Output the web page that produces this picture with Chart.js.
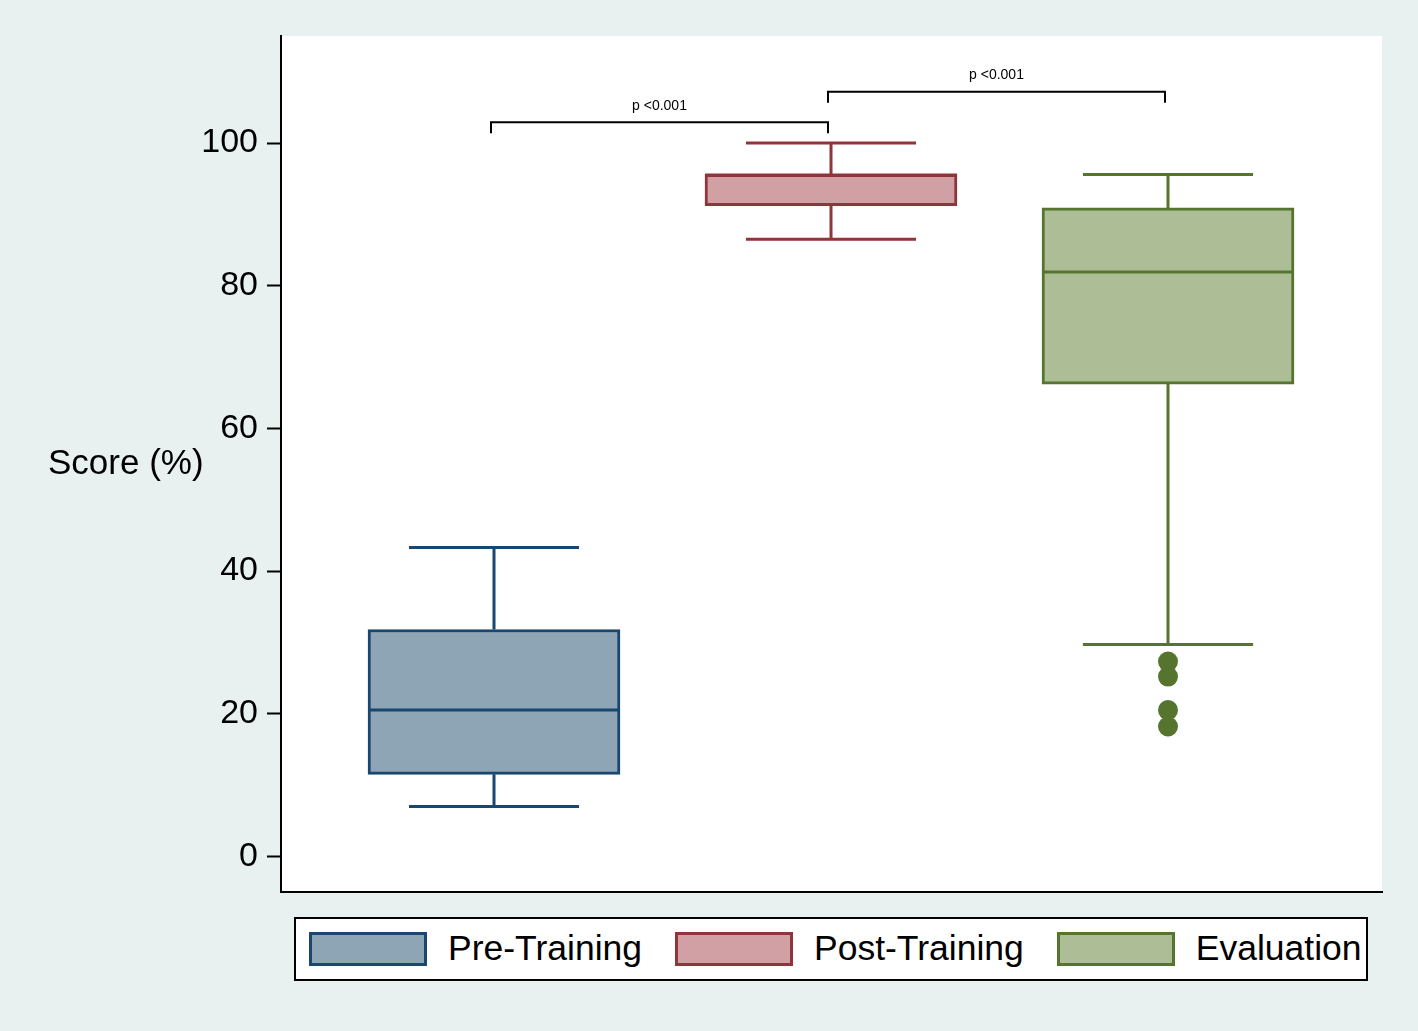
<!DOCTYPE html>
<html>
<head>
<meta charset="utf-8">
<script src="https://cdn.jsdelivr.net/npm/chart.js@4.4.1/dist/chart.umd.min.js"></script>
<style>
  html, body { margin: 0; padding: 0; background: #e8f0f0; }
  #wrap { position: relative; width: 1418px; height: 1031px; }
  #chart { position: absolute; left: 0; top: 0; }
  #legend {
    position: absolute; left: 294px; top: 917px; width: 1074px; height: 64px;
    box-sizing: border-box; border: 2.5px solid #000; background: #fff;
    display: flex; align-items: center; padding-left: 13px; white-space: nowrap;
    font-family: "Liberation Sans", Arial, sans-serif; font-size: 35.5px; color: #000;
  }
  .item { display: flex; align-items: center; flex-shrink: 0; }
  .item + .item { margin-left: 33px; }
  .swatch { width: 118px; height: 34px; box-sizing: border-box; border: 3px solid; flex-shrink: 0; }
  .label { margin-left: 21px; line-height: 1; }
</style>
</head>
<body>
<div id="wrap">
  <canvas id="chart" width="1418" height="1031"></canvas>
  <div id="legend"></div>
</div>
<script>
// box plot summaries
const groups = ["Pre-Training", "Post-Training", "Evaluation"];
const groupX = [1, 2, 3];
const lowerWhisker = [7.0, 86.5, 29.7];
const q1 = [11.5, 91.2, 66.2];
const median = [20.5, 95.5, 81.9];
const q3 = [31.8, 95.6, 90.9];
const upperWhisker = [43.3, 100, 95.6];
const outlierGroup = [3, 3, 3, 3];
const outlierValues = [27.3, 25.2, 20.5, 18.2];
const yTicks = [0, 20, 40, 60, 80, 100];
const comparisons = [[1, 2], [2, 3]];
const comparisonLevels = [102.9, 107.2];
const comparisonLabels = ["p <0.001", "p <0.001"];

const fills = ["#8ea5b6", "#d0a0a5", "#adbd96"];
const lines = ["#1a476f", "#90353b", "#55752f"];
const FONT = '"Liberation Sans", Arial, sans-serif';

const boxPlot = {
  id: "boxPlot",
  beforeDraw(chart) {
    const { ctx, chartArea: a } = chart;
    ctx.save();
    ctx.fillStyle = "#e8f0f0";
    ctx.fillRect(0, 0, chart.width, chart.height);
    ctx.fillStyle = "#fff";
    ctx.fillRect(a.left, a.top, a.right - a.left, a.bottom - a.top);
    ctx.restore();
  },
  afterDatasetsDraw(chart) {
    const { ctx, scales: { x, y } } = chart;
    ctx.save();
    groups.forEach((g, i) => {
      const bar = chart.getDatasetMeta(i).data[0];
      const cx = x.getPixelForValue(groupX[i]);
      const half = bar.width / 2;
      const cap = bar.width * 0.675 / 2;
      ctx.strokeStyle = lines[i];
      ctx.lineWidth = 3;
      ctx.beginPath();
      // whiskers
      ctx.moveTo(cx, y.getPixelForValue(q3[i]));
      ctx.lineTo(cx, y.getPixelForValue(upperWhisker[i]));
      ctx.moveTo(cx, y.getPixelForValue(q1[i]));
      ctx.lineTo(cx, y.getPixelForValue(lowerWhisker[i]));
      // caps
      ctx.moveTo(cx - cap, y.getPixelForValue(upperWhisker[i]));
      ctx.lineTo(cx + cap, y.getPixelForValue(upperWhisker[i]));
      ctx.moveTo(cx - cap, y.getPixelForValue(lowerWhisker[i]));
      ctx.lineTo(cx + cap, y.getPixelForValue(lowerWhisker[i]));
      // median
      ctx.moveTo(cx - half, y.getPixelForValue(median[i]));
      ctx.lineTo(cx + half, y.getPixelForValue(median[i]));
      ctx.stroke();
    });

    // significance brackets
    ctx.strokeStyle = "#000";
    ctx.lineWidth = 2;
    ctx.fillStyle = "#000";
    ctx.font = "14px " + FONT;
    ctx.textAlign = "center";
    ctx.textBaseline = "middle";
    comparisons.forEach(([a, b], k) => {
      const x1 = x.getPixelForValue(a) - 3;
      const x2 = x.getPixelForValue(b) - 3;
      const yy = y.getPixelForValue(comparisonLevels[k]);
      ctx.beginPath();
      ctx.moveTo(x1, yy + 11);
      ctx.lineTo(x1, yy);
      ctx.lineTo(x2, yy);
      ctx.lineTo(x2, yy + 11);
      ctx.stroke();
      ctx.fillText(comparisonLabels[k], (x1 + x2) / 2, yy - 16);
    });
    ctx.restore();
  },
  afterDraw(chart) {
    const { ctx, chartArea: a } = chart;
    ctx.save();
    ctx.fillStyle = "#000";
    ctx.font = "35px " + FONT;
    ctx.textAlign = "left";
    ctx.textBaseline = "middle";
    ctx.fillText("Score (%)", 48, (a.top + a.bottom) / 2);
    ctx.restore();
  }
};

const chart = new Chart(document.getElementById("chart"), {
  type: "bar",
  data: {
    datasets: [
      ...groups.map((g, i) => ({
        label: g,
        data: [{ x: groupX[i], y: [q1[i], q3[i]] }],
        backgroundColor: fills[i],
        borderColor: lines[i],
        borderWidth: 3,
        borderSkipped: false,
        barThickness: 252,
        grouped: false
      })),
      {
        type: "scatter",
        label: "outliers",
        data: outlierGroup.map((gx, k) => ({ x: gx, y: outlierValues[k] })),
        backgroundColor: lines[2],
        borderWidth: 0,
        pointRadius: 10
      }
    ]
  },
  options: {
    responsive: false,
    animation: false,
    layout: { padding: { top: 36, right: 36, bottom: 139, left: 0 } },
    plugins: { legend: { display: false }, tooltip: { enabled: false } },
    scales: {
      x: {
        type: "linear",
        offset: false,
        min: 1 - 213 / 337,
        max: 3 + 214 / 337,
        grid: { display: false, drawTicks: false, offset: false },
        ticks: { display: false },
        border: { color: "#000", width: 2 },
        afterFit(s) { s.height = 0; }
      },
      y: {
        min: -5,
        max: 115,
        afterBuildTicks(s) { s.ticks = yTicks.map(v => ({ value: v })); },
        grid: { drawOnChartArea: false, drawTicks: true, tickLength: 14, tickWidth: 2, tickColor: "#000" },
        border: { color: "#000", width: 2 },
        ticks: { padding: 9, color: "#000", font: { size: 34, family: FONT } },
        afterFit(s) { s.width = 281; }
      }
    }
  },
  plugins: [boxPlot]
});

// legend built from the box datasets
const legend = document.getElementById("legend");
chart.data.datasets.slice(0, groups.length).forEach(ds => {
  const item = document.createElement("div");
  item.className = "item";
  const sw = document.createElement("div");
  sw.className = "swatch";
  sw.style.background = ds.backgroundColor;
  sw.style.borderColor = ds.borderColor;
  const lb = document.createElement("span");
  lb.className = "label";
  lb.textContent = ds.label;
  item.appendChild(sw);
  item.appendChild(lb);
  legend.appendChild(item);
});
</script>
</body>
</html>
